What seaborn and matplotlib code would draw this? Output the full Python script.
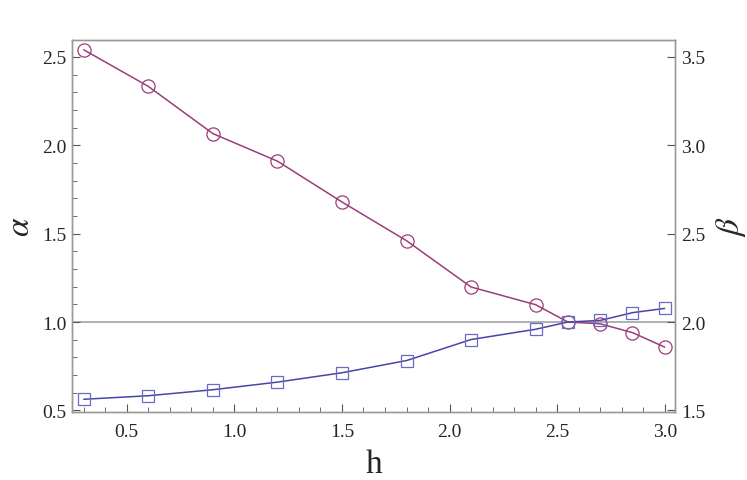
import numpy as np
import pandas as pd
import seaborn as sns
import matplotlib.pyplot as plt
from matplotlib.ticker import MultipleLocator

h = [0.3, 0.6, 0.9, 1.2, 1.5, 1.8, 2.1, 2.4, 2.55, 2.7, 2.85, 3.0]
alpha_vals = [2.54, 2.333, 2.066, 1.91, 1.679, 1.46, 1.198, 1.098, 1.0, 0.99, 0.94, 0.858]
beta_vals = [1.563, 1.583, 1.617, 1.66, 1.713, 1.782, 1.901, 1.959, 2.0, 2.009, 2.053, 2.077]

df_a = pd.DataFrame({"h": h, "val": alpha_vals})
df_b = pd.DataFrame({"h": h, "val": beta_vals})

sns.set_style("white")
plt.rcParams['font.family'] = ['Liberation Serif', 'DejaVu Serif']
plt.rcParams['mathtext.fontset'] = 'stix'

c_a = "#9b3d78"
c_b = "#4646aa"
gray = "#999999"

fig, ax = plt.subplots(figsize=(7.47, 4.81), dpi=100)
ax2 = ax.twinx()

ax.axhline(1.0, color="#aaaaaa", lw=1.3, zorder=0)

sns.lineplot(data=df_a, x="h", y="val", ax=ax, color=c_a, lw=1.1,
             marker="o", markersize=9.5, markerfacecolor="none",
             markeredgecolor=c_a, markeredgewidth=0.9)
sns.lineplot(data=df_b, x="h", y="val", ax=ax2, color=c_b, lw=1.1,
             marker="s", markersize=8.5, markerfacecolor="none",
             markeredgecolor="#6a6ac0", markeredgewidth=0.9)

ax.set_xlim(0.244, 3.049)
ax.set_ylim(0.49, 2.596)
ax2.set_ylim(1.49, 3.596)

ax.xaxis.set_major_locator(MultipleLocator(0.5))
ax.xaxis.set_minor_locator(MultipleLocator(0.1))
ax.yaxis.set_major_locator(MultipleLocator(0.5))
ax.yaxis.set_minor_locator(MultipleLocator(0.1))
ax2.yaxis.set_major_locator(MultipleLocator(0.5))
ax2.yaxis.set_minor_locator(plt.NullLocator())
ax.xaxis.set_major_formatter(plt.FormatStrFormatter("%.1f"))
ax.yaxis.set_major_formatter(plt.FormatStrFormatter("%.1f"))
ax2.yaxis.set_major_formatter(plt.FormatStrFormatter("%.1f"))

for a in (ax, ax2):
    for s in a.spines.values():
        s.set_color(gray)
        s.set_linewidth(1.0)

ax.tick_params(axis="x", which="both", direction="in", bottom=True, top=False,
               color="#555555", labelsize=14, pad=8)
ax.tick_params(axis="x", which="major", length=6)
ax.tick_params(axis="x", which="minor", length=3.5)
ax.tick_params(axis="y", which="both", direction="in", left=True, right=False,
               color="#555555", labelsize=14, pad=4)
ax.tick_params(axis="y", which="major", length=6)
ax.tick_params(axis="y", which="minor", length=3.5)
ax2.tick_params(axis="y", which="both", direction="in", right=True,
                color="#555555", labelsize=14, pad=4, length=6)

ax.set_xlabel("h", fontsize=24, labelpad=6)
ax.set_ylabel(r"$\alpha$", fontsize=24, labelpad=4)
ax2.set_ylabel(r"$\beta$", fontsize=24, labelpad=6)

fig.subplots_adjust(left=0.096, right=0.904, top=0.915, bottom=0.141)
fig.savefig("out.png", dpi=100)
